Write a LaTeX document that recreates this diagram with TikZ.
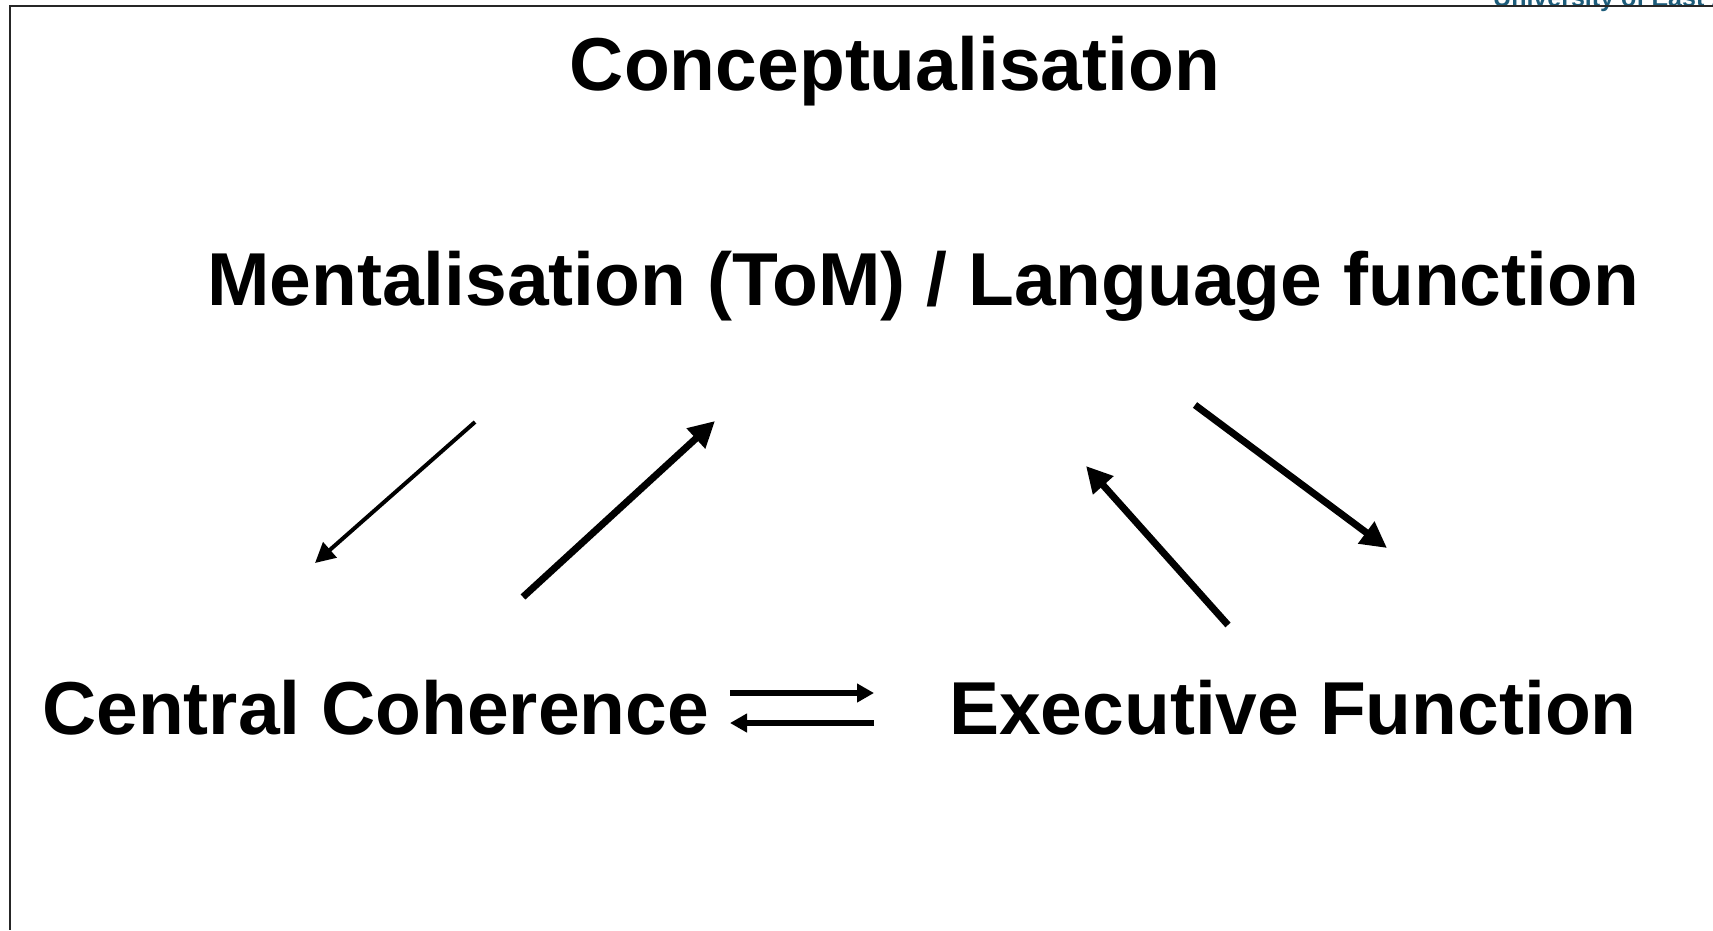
\documentclass[tikz,border=0pt]{standalone}
\usepackage{fontspec}
\setmainfont{Liberation Sans}
\usetikzlibrary{arrows.meta}
\definecolor{ueablue}{HTML}{1D5C7A}
\tikzset{
  big/.style={font=\fontsize{75}{90}\selectfont\bfseries, inner sep=0pt, anchor=base},
  thinarrow/.style={line width=4pt, -{Triangle[length=20pt,width=20pt]}},
  thickarrow/.style={line width=7pt, -{Triangle[length=26pt,width=26pt]}},
  flatarrow/.style={line width=6pt, -{Triangle[length=17pt,width=18pt]}},
  frame/.style={line width=2.5pt, draw=black!85}
}
\begin{document}
\begin{tikzpicture}[x=1pt,y=-1pt]
\useasboundingbox (0,0) rectangle (1713,930);
\begin{scope}
\clip (0,0) rectangle (1713,930);
\node[anchor=base west, inner sep=0pt, text=ueablue, font=\fontsize{25}{30}\selectfont\bfseries] (uea) at (1493,6) {University of East Anglia};
\end{scope}
\draw[frame] (1713,6) -- (10,6) -- (10,930);
\node[big] (concept) at (895,90) {Conceptualisation};
\node[big] (ment) at (923,305) {Mentalisation (ToM) / Language function};
\node[big, anchor=base west] (cc) at (42,734) {Central Coherence};
\node[big, anchor=base west] (ef) at (949,734) {Executive Function};
\coordinate (a1s) at (475,422); \coordinate (a1e) at (315,563);
\coordinate (a2s) at (523,597); \coordinate (a2e) at (715,421);
\coordinate (a3s) at (1228,625); \coordinate (a3e) at (1086,466);
\coordinate (a4s) at (1195,405); \coordinate (a4e) at (1387,548);
\coordinate (h1s) at (730,693); \coordinate (h1e) at (874,693);
\coordinate (h2s) at (874,723); \coordinate (h2e) at (730,723);
\draw[thinarrow] (a1s) -- (a1e);
\draw[thickarrow] (a2s) -- (a2e);
\draw[thickarrow] (a3s) -- (a3e);
\draw[thickarrow] (a4s) -- (a4e);
\draw[flatarrow] (h1s) -- (h1e);
\draw[flatarrow] (h2s) -- (h2e);
\end{tikzpicture}
\end{document}
